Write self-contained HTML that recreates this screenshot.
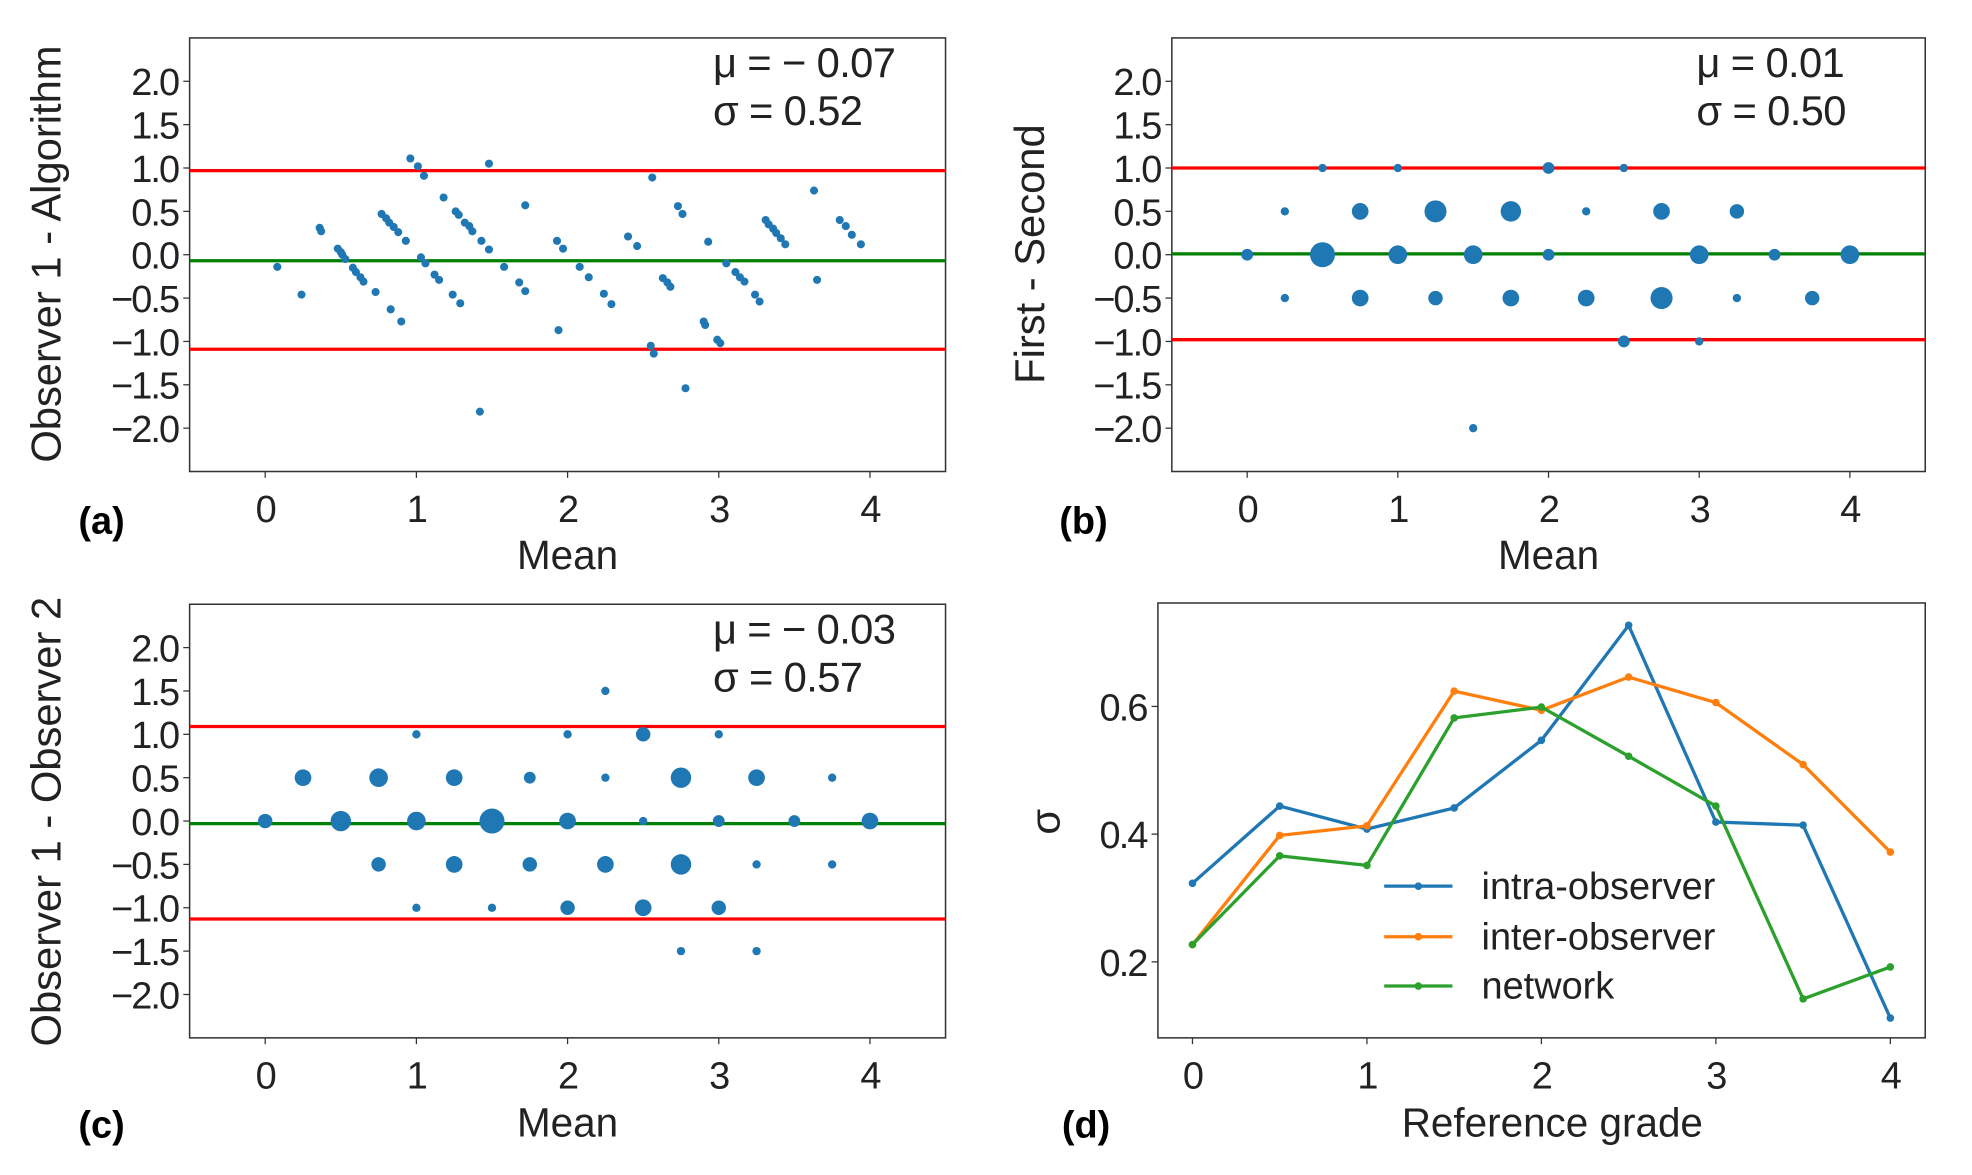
<!DOCTYPE html>
<html><head><meta charset="utf-8"><style>
html,body{margin:0;padding:0;background:#fff;}
svg{display:block;font-family:"Liberation Sans","DejaVu Sans",sans-serif;}
.tick{font-size:30px;fill:#222;letter-spacing:-1.5px;}
.lab{font-size:32px;fill:#222;}
.ann{font-size:33px;fill:#222;letter-spacing:-0.5px;}
.yl{font-size:33px;fill:#222;}
.leg{font-size:30px;fill:#222;}
.pl{font-size:30px;font-weight:bold;fill:#000;}
</style></head><body>
<svg id="fig" width="1972" height="1175" viewBox="0 0 1560 929.5" preserveAspectRatio="none" xmlns="http://www.w3.org/2000/svg"></svg>
<script>
// ---- Panel (a) data: Mean vs Observer1 - Algorithm ----
const aMean = [0.08,0.24,0.36,0.37,0.48,0.5,0.51,0.53,0.58,0.6,0.63,0.65,0.73,0.77,0.8,0.82,0.85,0.88,0.93,0.83,0.9,0.96,1.01,1.05,1.03,1.06,1.12,1.15,1.18,1.26,1.28,1.32,1.35,1.37,1.43,1.48,1.24,1.29,1.48,1.42,1.58,1.68,1.72,1.72,1.93,1.97,1.94,2.08,2.14,2.24,2.29,2.4,2.46,2.56,2.55,2.57,2.63,2.66,2.68,2.73,2.76,2.78,2.9,2.91,2.93,2.99,3.01,3.05,3.11,3.14,3.17,3.24,3.27,3.31,3.33,3.36,3.38,3.41,3.44,3.63,3.65,3.8,3.84,3.88,3.94];
const aDiff = [-0.14,-0.46,0.31,0.27,0.07,0.03,0,-0.05,-0.15,-0.2,-0.26,-0.31,-0.43,0.47,0.42,0.37,0.32,0.26,0.16,-0.63,-0.77,1.11,1.02,0.91,-0.03,-0.1,-0.23,-0.29,0.66,0.5,0.46,0.37,0.33,0.27,0.16,0.06,-0.46,-0.56,1.05,-1.81,-0.14,-0.32,-0.42,0.57,0.16,0.07,-0.87,-0.14,-0.26,-0.45,-0.57,0.21,0.1,0.89,-1.05,-1.14,-0.27,-0.32,-0.37,0.56,0.47,-1.54,-0.77,-0.81,0.15,-0.98,-1.02,-0.1,-0.2,-0.26,-0.31,-0.46,-0.54,0.4,0.35,0.3,0.25,0.19,0.12,0.74,-0.29,0.4,0.33,0.23,0.12];
const aLines = [0.97,-0.07,-1.09];
// ---- Panel (b) data ----
const bMean = [0.5,1,2,2.5, 0.25,0.75,1.25,1.75,2.25,2.75,3.25, 0,0.5,1,1.5,2,3,3.5,4, 0.25,0.75,1.25,1.75,2.25,2.75,3.25,3.75, 2.5,3, 1.5];
const bDiff = [1,1,1,1, 0.5,0.5,0.5,0.5,0.5,0.5,0.5, 0,0,0,0,0,0,0,0, -0.5,-0.5,-0.5,-0.5,-0.5,-0.5,-0.5,-0.5, -1,-1, -2];
const bCount = [1,1,2,1, 1,4,7,6,1,4,3, 2,9,5,5,2,5,2,5, 1,4,3,4,4,7,1,3, 2,1, 1];
const bLines = [1.0,0.01,-0.98];
// ---- Panel (c) data ----
const cMean = [2.25, 1,2,2.5,3, 0.25,0.75,1.25,1.75,2.25,2.75,3.25,3.75, 0,0.5,1,1.5,2,2.5,3,3.5,4, 0.75,1.25,1.75,2.25,2.75,3.25,3.75, 1,1.5,2,2.5,3, 2.75,3.25];
const cDiff = [1.5, 1,1,1,1, 0.5,0.5,0.5,0.5,0.5,0.5,0.5,0.5, 0,0,0,0,0,0,0,0,0, -0.5,-0.5,-0.5,-0.5,-0.5,-0.5,-0.5, -1,-1,-1,-1,-1, -1.5,-1.5];
const cCount = [1, 1,1,3,1, 4,5,4,2,1,6,4,1, 3,6,5,9,4,1,2,2,4, 3,4,3,4,6,1,1, 1,1,3,4,3, 1,1];
const cLines = [1.09,-0.03,-1.13];
// ---- Panel (d) data ----
const dGrades = [0,0.5,1,1.5,2,2.5,3,3.5,4];
const dIntra = [0.323,0.444,0.408,0.441,0.547,0.727,0.419,0.414,0.112];
const dInter = [0.227,0.398,0.413,0.624,0.594,0.646,0.606,0.509,0.372];
const dNetwork = [0.227,0.366,0.351,0.582,0.599,0.522,0.444,0.142,0.192];
const blandTicksX = [0,1,2,3,4];
const blandTicksY = [2.0,1.5,1.0,0.5,0.0,-0.5,-1.0,-1.5,-2.0];
const dTicksY = [0.2,0.4,0.6];

const NS="http://www.w3.org/2000/svg";
const svg=document.getElementById('fig');
function mk(tag,attrs,parent,text){const e=document.createElementNS(NS,tag);for(const k in attrs)e.setAttribute(k,attrs[k]);if(text!==undefined)e.textContent=text;(parent||svg).appendChild(e);return e;}
function fmtY(v){return (v<0?'\u2212':'')+Math.abs(v).toFixed(1);}

function axes(name,L,T,R,B,xmin,xmax,ymin,ymax,xt,yt,yfmt){
  const g=mk('g',{});
  
  
  const sx=v=>L+(v-xmin)/(xmax-xmin)*(R-L);
  const sy=v=>B-(v-ymin)/(ymax-ymin)*(B-T);
  const frame=mk('rect',{x:L,y:T,width:R-L,height:B-T,fill:'none',stroke:'#333','stroke-width':1.2},g);
  
  
  xt.forEach(v=>{
    mk('line',{x1:sx(v),x2:sx(v),y1:B,y2:B+5,stroke:'#333'},g);
    const t=mk('text',{x:sx(v),y:B+40,'text-anchor':'middle',class:'tick'},g,String(v));
    
    
  });
  yt.forEach(v=>{
    mk('line',{x1:L-5,x2:L,y1:sy(v),y2:sy(v),stroke:'#333'},g);
    const t=mk('text',{x:L-9,y:sy(v)+11,'text-anchor':'end',class:'tick'},g,yfmt(v));
    
    
  });
  return {g,sx,sy,L,R,T,B};
}
function hlines(ax,vals){
  vals.forEach((v,i)=>{
    const l=mk('line',{x1:ax.L,x2:ax.R,y1:ax.sy(v),y2:ax.sy(v),stroke:i===1?'#008000':'#ff0000','stroke-width':2.6},ax.g);
    
    
  });
}
function text(x,y,s,cls,name,anchor,rot){
  const a={x:x,y:y,class:cls,'text-anchor':anchor||'middle'};
  if(rot)a.transform='rotate(-90 '+x+' '+y+')';
  const t=mk('text',a,svg,s);
  
  
  return t;
}

// Panel a
const A=axes('panel-a',150,30,748,373,-0.5,4.5,-2.5,2.5,blandTicksX,blandTicksY,fmtY);
hlines(A,aLines);
aMean.forEach((m,i)=>{const c=mk('circle',{cx:A.sx(m),cy:A.sy(aDiff[i]),r:3.2,fill:'#1f77b4'},A.g);

});
text(449,450,'Mean','lab','x-axis-title-a');
text(48,201,'Observer 1 - Algorithm','yl','y-axis-title-a','middle',true);
text(62,422,'(a)','pl','panel-label-a','start');
text(564,61,'\u03bc = \u2212 0.07','ann','mu-annotation-a','start');
text(564,99,'\u03c3 = 0.52','ann','sigma-annotation-a','start');

// Panel b
const Bx=axes('panel-b',927,30,1523,373,-0.5,4.5,-2.5,2.5,blandTicksX,blandTicksY,fmtY);
hlines(Bx,bLines);
bMean.forEach((m,i)=>{const c=mk('circle',{cx:Bx.sx(m),cy:Bx.sy(bDiff[i]),r:3.3*Math.sqrt(bCount[i]),fill:'#1f77b4'},Bx.g);

});
text(1225,450,'Mean','lab','x-axis-title-b');
text(826,201,'First - Second','yl','y-axis-title-b','middle',true);
text(838,422,'(b)','pl','panel-label-b','start');
text(1342,61,'\u03bc = 0.01','ann','mu-annotation-b','start');
text(1342,99,'\u03c3 = 0.50','ann','sigma-annotation-b','start');

// Panel c
const C=axes('panel-c',150,478,748,821,-0.5,4.5,-2.5,2.5,blandTicksX,blandTicksY,fmtY);
hlines(C,cLines);
cMean.forEach((m,i)=>{const c=mk('circle',{cx:C.sx(m),cy:C.sy(cDiff[i]),r:3.3*Math.sqrt(cCount[i]),fill:'#1f77b4'},C.g);

});
text(449,899,'Mean','lab','x-axis-title-c');
text(48,650,'Observer 1 - Observer 2','yl','y-axis-title-c','middle',true);
text(62,900,'(c)','pl','panel-label-c','start');
text(564,509,'\u03bc = \u2212 0.03','ann','mu-annotation-c','start');
text(564,547,'\u03c3 = 0.57','ann','sigma-annotation-c','start');

// Panel d
const D=axes('panel-d',916,477,1523,821,-0.198,4.2,0.081,0.762,blandTicksX,dTicksY,v=>v.toFixed(1));
const series=[[dIntra,'#1f77b4','intra-observer'],[dInter,'#ff7f0e','inter-observer'],[dNetwork,'#2ca02c','network']];
series.forEach(([vals,col,nm])=>{
  const pts=dGrades.map((g,i)=>D.sx(g)+','+D.sy(vals[i])).join(' ');
  const pl=mk('polyline',{points:pts,fill:'none',stroke:col,'stroke-width':2.6},D.g);
  
  
  dGrades.forEach((g,i)=>{const c=mk('circle',{cx:D.sx(g),cy:D.sy(vals[i]),r:3,fill:col},D.g);
  
  });
});
const legY=[701,741,780];
series.forEach(([vals,col,nm],i)=>{
  const l=mk('line',{x1:1095,x2:1149,y1:legY[i],y2:legY[i],stroke:col,'stroke-width':2.6});
  
  
  mk('circle',{cx:1122,cy:legY[i],r:3,fill:col});
  text(1172,legY[i]+10,nm,'leg','legend-entry','start');
});
text(1228,899,'Reference grade','lab','x-axis-title-d');
text(838,650,'\u03c3','yl','y-axis-title-d','middle',true);
text(840,900,'(d)','pl','panel-label-d','start');
</script>
</body></html>
